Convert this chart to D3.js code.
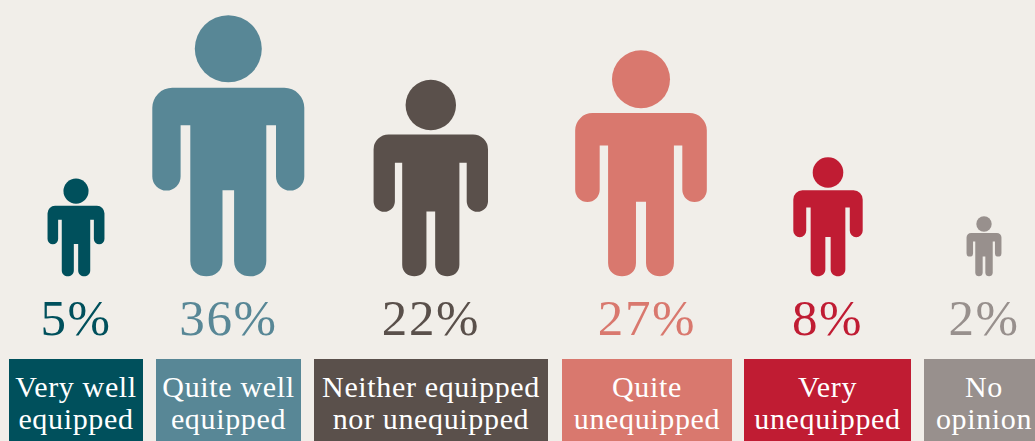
<!DOCTYPE html>
<html><head><meta charset="utf-8">
<script src="https://cdn.jsdelivr.net/npm/d3@7"></script>
<style>html,body{margin:0;padding:0;background:#f1eee9;overflow:hidden}svg{display:block}text{font-family:"Liberation Serif",serif}</style>
</head><body><div id="chart"></div>
<script>
const categories = ["Very well equipped","Quite well equipped","Neither equipped nor unequipped","Quite unequipped","Very unequipped","No opinion"];
const labelLines = [["Very well","equipped"],["Quite well","equipped"],["Neither equipped","nor unequipped"],["Quite","unequipped"],["Very","unequipped"],["No","opinion"]];
const percentages = [5,36,22,27,8,2];
// Figure sizes, in the same units (figure area)
const figureAreas = [5.05,36,20.4,27,7.5,1.9];
const colours = ["#00505c","#588796","#5a504b","#d9786e","#c01c33","#98908d"];

const W=1035,H=441, baseY=276.3, fullH=261;
const colCentres=[76,228.3,430.8,641,828,984];
const boxEdges=[[9,143],[156,301],[314,548],[562,732],[744,911],[924,1044]];
const centre=d3.scaleOrdinal(categories,colCentres);
const box=d3.scaleOrdinal(categories,boxEdges);
const colour=d3.scaleOrdinal(categories,colours);
const height=d3.scaleSqrt().domain([0,36]).range([0,fullH]);
const textX=c=>(box(c)[0]+box(c)[1])/2;

const svg=d3.select("#chart").append("svg").attr("width",W).attr("height",H);
svg.append("rect").attr("width",W).attr("height",H).attr("fill","#f1eee9");

function bodyPath(){
  const p=d3.path();
  const t=72.5,ap=110,ab=175.3,cr=175,b=261,o=76,a=47.7,h=38,c=5.8,s=20;
  const armR=(o-a)/2, legR=(h-c)/2;
  p.moveTo(-o+s,t); p.lineTo(o-s,t);
  p.arcTo(o,t,o,t+s,s); p.lineTo(o,ab-armR);
  p.arc(o-armR,ab-armR,armR,0,Math.PI);
  p.lineTo(a,ap); p.lineTo(h,ap);
  p.lineTo(h,b-legR*0.95);
  p.bezierCurveTo(h,b-legR*0.3,h-legR*0.5,b,(h+c)/2,b);
  p.bezierCurveTo(c+legR*0.5,b,c,b-legR*0.3,c,b-legR*0.95);
  p.lineTo(c,cr); p.lineTo(-c,cr);
  p.lineTo(-c,b-legR*0.95);
  p.bezierCurveTo(-c,b-legR*0.3,-c-legR*0.5,b,-(h+c)/2,b);
  p.bezierCurveTo(-h+legR*0.5,b,-h,b-legR*0.3,-h,b-legR*0.95);
  p.lineTo(-h,ap); p.lineTo(-a,ap); p.lineTo(-a,ab-armR);
  p.arc(-o+armR,ab-armR,armR,0,Math.PI);
  p.lineTo(-o,t+s); p.arcTo(-o,t,-o+s,t,s); p.closePath();
  return p.toString();
}
const body=bodyPath();

const rows=categories.map((c,i)=>({c,lines:labelLines[i],pct:percentages[i],area:figureAreas[i]}));
const col=svg.selectAll("g.col").data(rows).join("g").attr("class","col");

const fig=col.append("g").attr("transform",d=>{
  const h=height(d.area);
  return `translate(${centre(d.c)},${baseY-h}) scale(${h/fullH})`;
}).attr("fill",d=>colour(d.c));
fig.append("circle").attr("cx",0).attr("cy",33.5).attr("r",33.5);
fig.append("path").attr("d",body);

col.append("text").attr("x",d=>d.c==="No opinion"?centre(d.c):textX(d.c)).attr("y",335)
  .attr("text-anchor","middle").attr("font-size",51).attr("letter-spacing",1.6).attr("fill",d=>colour(d.c))
  .text(d=>d.pct+"%");

col.append("rect").attr("x",d=>box(d.c)[0]).attr("y",359)
  .attr("width",d=>box(d.c)[1]-box(d.c)[0]).attr("height",H-359).attr("fill",d=>colour(d.c));

col.each(function(d){
  d3.select(this).selectAll("text.lab").data(d.lines).join("text").attr("class","lab")
   .attr("x",d.c==="No opinion"?centre(d.c):textX(d.c)).attr("y",(l,i)=>396.5+i*32)
   .attr("text-anchor","middle").attr("font-size",30).attr("letter-spacing",0.65).attr("fill","#fff").text(l=>l);
});
</script></body></html>
